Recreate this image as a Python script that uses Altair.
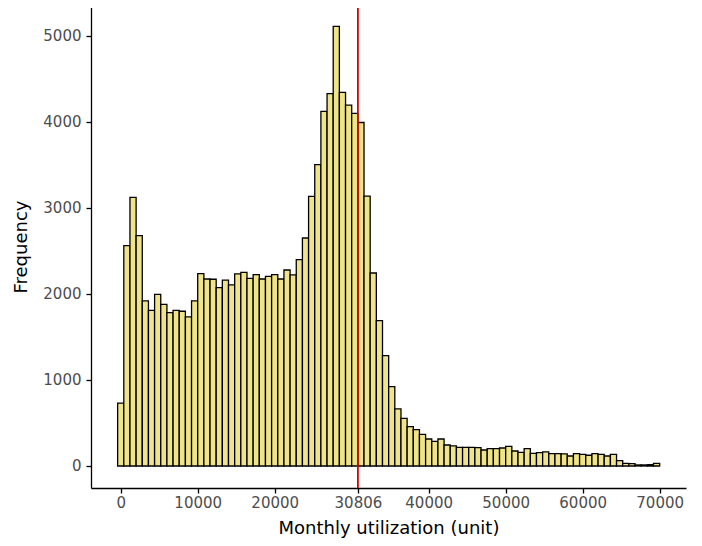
import altair as alt
import pandas as pd

# Histogram counts, bin width 800 centred on 0 (first bin -400..400)
bin_width = 800
first_bin_start = -400
counts = [
    730, 2562, 3124, 2678, 1919, 1810, 1996, 1880, 1783, 1810,
    1799, 1733, 1919, 2236, 2174, 2171, 2074, 2160, 2105, 2233,
    2252, 2182, 2225, 2174, 2205, 2225, 2174, 2279, 2221, 2399,
    2651, 3135, 3504, 4122, 4330, 5112, 4343, 4195, 4099, 3994,
    3138, 2244, 1690, 1283, 922, 663, 554, 457, 422, 368,
    314, 287, 314, 244, 233, 217, 217, 217, 213, 186,
    202, 202, 209, 229, 174, 159, 202, 147, 155, 163,
    143, 143, 140, 116, 143, 136, 125, 143, 136, 116,
    136, 62, 31, 27, 12, 12, 16, 31,
]
mean_value = 30806
x_ticks = [0, 10000, 20000, 30806, 40000, 50000, 60000, 70000]
y_ticks = [0, 1000, 2000, 3000, 4000, 5000]

bins = pd.DataFrame({
    "start": [first_bin_start + i * bin_width for i in range(len(counts))],
    "end": [first_bin_start + (i + 1) * bin_width for i in range(len(counts))],
    "count": counts,
})
vline = pd.DataFrame({"x": [mean_value]})

x_scale = alt.Scale(domain=[-3860, 73420], nice=False, zero=False)
y_scale = alt.Scale(domain=[-256, 5360], nice=False, zero=False)

font = "DejaVu Sans"

bars = alt.Chart(bins).mark_rect(
    fill="#EFE48A", stroke="black", strokeWidth=1.3
).encode(
    x=alt.X("start:Q", scale=x_scale,
            axis=alt.Axis(values=x_ticks, title="Monthly utilization (unit)", format="d",
                          labelPadding=2, titlePadding=9)),
    x2="end:Q",
    y=alt.Y("count:Q", scale=y_scale,
            axis=alt.Axis(values=y_ticks, title="Frequency", format="d",
                          labelPadding=5, titlePadding=12)),
    y2=alt.datum(0),
)

rule = alt.Chart(vline).mark_rule(color="#DD0000", strokeWidth=1.8).encode(
    x=alt.X("x:Q", scale=x_scale)
)

chart = alt.layer(bars, rule).properties(
    width=595,
    height=483,
    autosize=alt.AutoSizeParams(type="none"),
    padding={"left": 83, "top": -3, "right": 8, "bottom": 50},
).configure_view(
    stroke=None
).configure_axis(
    domainColor="black",
    domainWidth=1.3,
    tickColor="black",
    tickWidth=1.3,
    tickSize=5,
    grid=False,
    labelColor="#4D4D4D",
    labelFont=font,
    labelFontSize=15,
    labelFlush=False,
    titleFont=font,
    titleFontSize=18,
    titleFontWeight="normal",
    titleColor="black",
)

chart.save("out.html", embed_options={"renderer": "svg", "actions": False})
